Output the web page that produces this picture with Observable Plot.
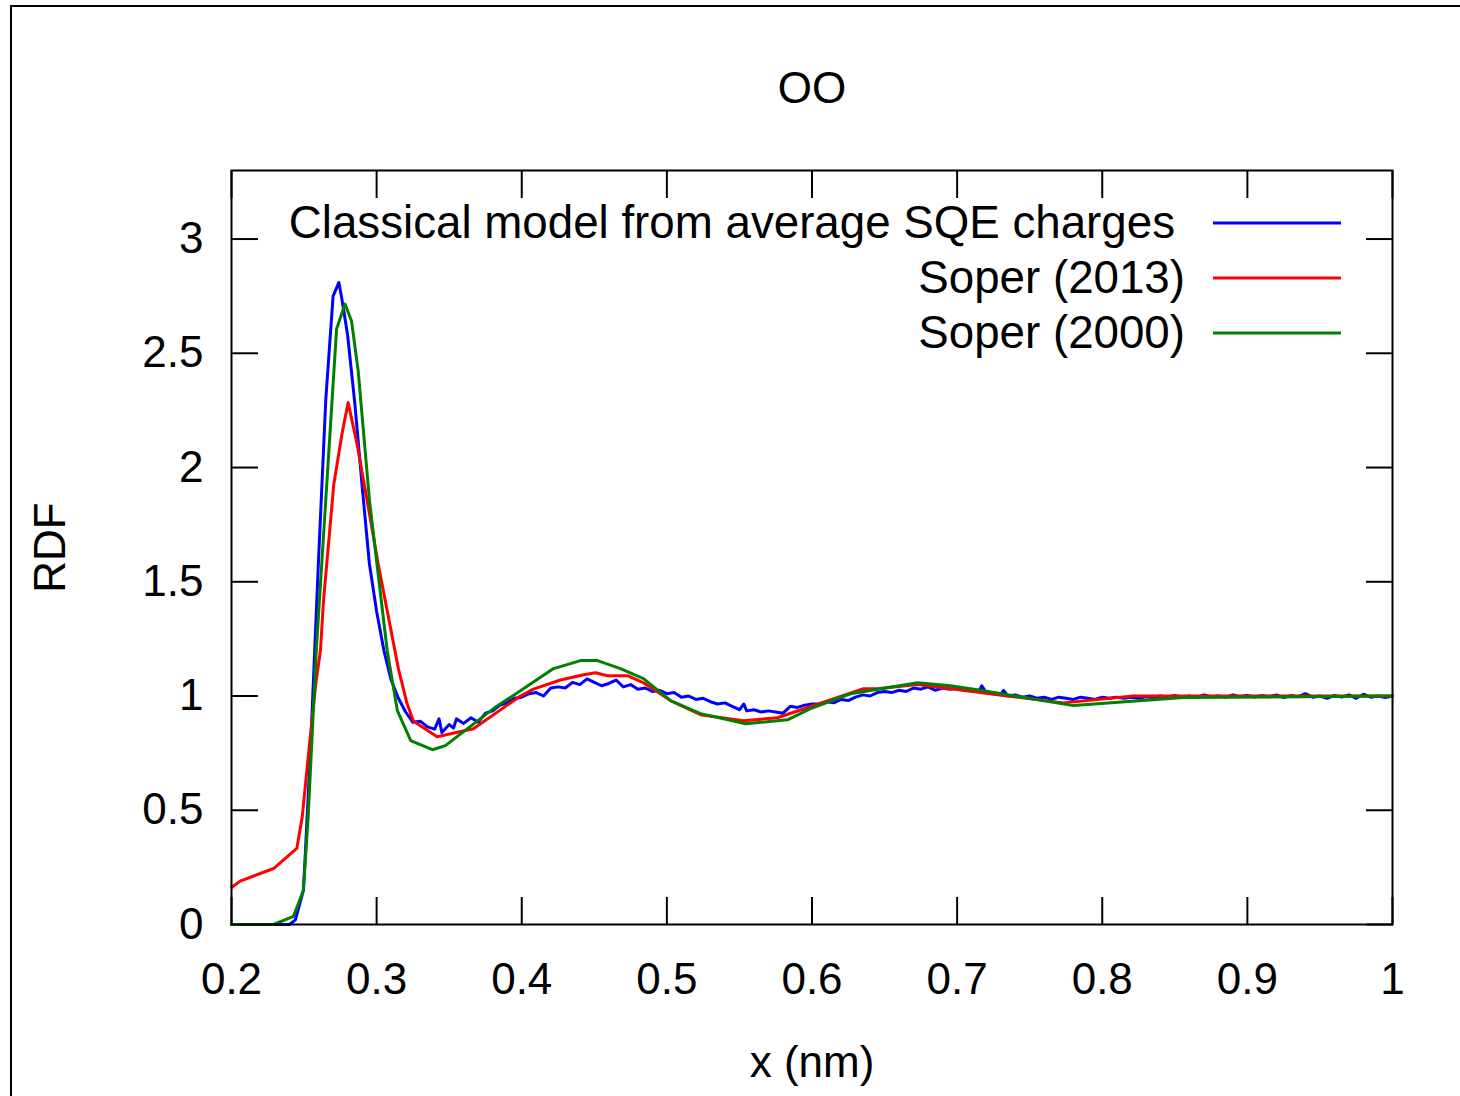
<!DOCTYPE html>
<html>
<head>
<meta charset="utf-8">
<script src="https://cdn.jsdelivr.net/npm/d3@7"></script>
<script src="https://cdn.jsdelivr.net/npm/@observablehq/plot@0.6"></script>
<style>
  html, body { margin: 0; padding: 0; background: #fff; }
  #wrap { position: relative; width: 1460px; height: 1096px; overflow: hidden; font-family: "Liberation Sans", Arial, sans-serif; }
  #pageframe { position: absolute; left: 10px; top: 5px; width: 1500px; height: 1200px; border-left: 2px solid #000; border-top: 2px solid #000; }
  #chart { position: absolute; left: 0; top: 0; }
  .leg { position: absolute; font-size: 45.7px; line-height: 1; transform: translateY(-50%); white-space: nowrap; color: #000; }
  .legline { position: absolute; left: 1213px; width: 128px; height: 0; border-top: 3px solid; transform: translateY(-1.5px); }
</style>
</head>
<body>
<div id="wrap">
  <div id="pageframe"></div>
  <div id="chart"></div>
</div>
<script>
// ---- data ----
const seriesNames = ["Classical model from average SQE charges", "Soper (2013)", "Soper (2000)"];
const seriesColors = ["#0000ff", "#ff0000", "#008000"];
const xTicks = [0.2, 0.3, 0.4, 0.5, 0.6, 0.7, 0.8, 0.9, 1];
const yTicks = [0, 0.5, 1, 1.5, 2, 2.5, 3];

const classicalX = [0.200,0.240,0.244,0.2496,0.2544,0.260,0.265,0.270,0.274,0.276,0.280,0.285,0.290,0.295,0.300,0.305,0.310,0.315,0.320,0.325,0.330,0.335,0.340,0.343,0.345,0.350,0.353,0.355,0.360,0.365,0.370,0.375,0.380,0.385,0.390,0.395,0.400,0.405,0.410,0.415,0.420,0.425,0.430,0.435,0.440,0.445,0.450,0.455,0.460,0.465,0.470,0.475,0.480,0.485,0.490,0.495,0.500,0.505,0.510,0.515,0.520,0.525,0.530,0.535,0.540,0.545,0.550,0.553,0.555,0.560,0.565,0.570,0.575,0.580,0.585,0.590,0.595,0.600,0.605,0.610,0.615,0.620,0.625,0.630,0.635,0.640,0.645,0.650,0.655,0.660,0.665,0.670,0.675,0.680,0.685,0.690,0.695,0.700,0.705,0.710,0.715,0.717,0.720,0.725,0.730,0.732,0.735,0.740,0.745,0.750,0.755,0.760,0.765,0.770,0.775,0.780,0.785,0.790,0.795,0.800,0.805,0.810,0.815,0.820,0.825,0.830,0.835,0.840,0.845,0.850,0.855,0.860,0.865,0.870,0.875,0.880,0.885,0.890,0.895,0.900,0.905,0.910,0.915,0.920,0.925,0.930,0.935,0.940,0.945,0.950,0.955,0.960,0.965,0.970,0.975,0.980,0.985,0.990,0.995,1.000];
const classicalY = [0,0,0.02,0.15,0.76,1.6,2.3,2.75,2.81,2.74,2.58,2.28,1.92,1.58,1.37,1.2,1.07,0.99,0.93,0.885,0.89,0.865,0.855,0.9,0.84,0.875,0.86,0.9,0.88,0.905,0.885,0.925,0.935,0.96,0.97,0.99,0.995,1.01,1.015,1.0,1.035,1.04,1.035,1.06,1.05,1.075,1.06,1.045,1.055,1.07,1.04,1.05,1.03,1.035,1.02,1.025,1.01,1.015,0.995,1.0,0.985,0.99,0.975,0.965,0.97,0.955,0.94,0.965,0.935,0.94,0.93,0.935,0.93,0.925,0.955,0.95,0.96,0.965,0.965,0.975,0.97,0.985,0.98,0.995,1.005,1.0,1.015,1.02,1.015,1.025,1.02,1.035,1.03,1.04,1.025,1.035,1.03,1.035,1.025,1.03,1.02,1.045,1.015,1.01,1.005,1.025,1.0,1.005,0.995,1.0,0.99,0.995,0.985,0.995,0.99,0.985,0.995,0.99,0.985,0.995,0.99,0.995,0.99,0.995,0.99,0.997,0.993,1.0,0.995,1.003,0.995,1.0,0.993,1.005,0.997,1.0,0.995,1.005,0.997,1.003,0.995,1.002,0.997,1.005,0.993,1.002,0.997,1.01,0.995,1.0,0.99,1.003,0.995,1.005,0.99,1.008,0.995,1.0,0.993,1.0];

const soper2013X = [0.200,0.206,0.229,0.245,0.2487,0.2533,0.258,0.2613,0.2634,0.2705,0.2763,0.2804,0.2866,0.2935,0.3013,0.315,0.321,0.3254,0.3417,0.3667,0.3991,0.408,0.4267,0.4426,0.4508,0.4591,0.4729,0.4839,0.5025,0.5232,0.5528,0.5762,0.6355,0.6451,0.6727,0.7347,0.7733,0.8215,1.000];
const soper2013Y = [0.162,0.19,0.245,0.333,0.469,0.76,1.05,1.2,1.417,1.927,2.153,2.284,2.10,1.854,1.57,1.12,0.966,0.89,0.822,0.857,1.0,1.03,1.07,1.093,1.102,1.089,1.089,1.058,0.98,0.918,0.892,0.905,1.032,1.032,1.05,1.0,0.97,1.0,1.0];

const soper2000X = [0.200,0.229,0.2427,0.2495,0.2528,0.2584,0.2724,0.2782,0.2827,0.2873,0.2951,0.3073,0.3143,0.3235,0.3384,0.3474,0.3805,0.3991,0.4219,0.4405,0.4522,0.468,0.4839,0.5025,0.5232,0.5542,0.5831,0.599,0.6265,0.6727,0.6954,0.7182,0.7802,0.856,1.000];
const soper2000Y = [0,0,0.036,0.149,0.468,1.198,2.606,2.716,2.641,2.423,1.854,1.198,0.936,0.805,0.765,0.783,0.945,1.023,1.12,1.155,1.155,1.12,1.076,0.98,0.923,0.879,0.896,0.945,1.01,1.058,1.045,1.023,0.958,0.993,1.0];

const titleText = "OO";
const xLabel = "x (nm)";
const yLabel = "RDF";

// ---- build ----
const toRows = (xs, ys) => xs.map((x, i) => ({x, y: ys[i]}));
const seriesRows = [
  toRows(classicalX, classicalY),
  toRows(soper2013X, soper2013Y),
  toRows(soper2000X, soper2000Y)
];
const fmt = d => String(d);
const FS = 44;

const chart = Plot.plot({
  width: 1460,
  height: 1096,
  marginLeft: 231,
  marginRight: 68,
  marginTop: 170,
  marginBottom: 172,
  x: {domain: [0.2, 1.0]},
  y: {domain: [0, 3.3]},
  style: {fontFamily: '"Liberation Sans", Arial, sans-serif', fontSize: FS + "px", background: "transparent", color: "#000", overflow: "visible"},
  marks: [
    // inward tick marks on all four sides
    Plot.axisX(xTicks, {anchor: "bottom", tickSize: -27, tickFormat: () => "", strokeWidth: 2, label: null}),
    Plot.axisX(xTicks, {anchor: "top", tickSize: -27, tickFormat: () => "", strokeWidth: 2, label: null}),
    Plot.axisY(yTicks, {anchor: "left", tickSize: -27, tickFormat: () => "", strokeWidth: 2, label: null}),
    Plot.axisY(yTicks, {anchor: "right", tickSize: -27, tickFormat: () => "", strokeWidth: 2, label: null}),
    // tick labels
    Plot.axisX(xTicks, {anchor: "bottom", tickSize: 0, tickPadding: 38, tickFormat: fmt, label: null, fontSize: FS}),
    Plot.axisY(yTicks, {anchor: "left", tickSize: 0, tickPadding: 28, tickFormat: fmt, label: null, fontSize: FS}),
    // curves
    Plot.line(seriesRows[0], {x: "x", y: "y", stroke: seriesColors[0], strokeWidth: 3}),
    Plot.line(seriesRows[1], {x: "x", y: "y", stroke: seriesColors[1], strokeWidth: 3}),
    Plot.line(seriesRows[2], {x: "x", y: "y", stroke: seriesColors[2], strokeWidth: 3}),
    Plot.frame({stroke: "#000", strokeWidth: 2}),
    // title and axis labels
    Plot.text([titleText], {text: d => d, frameAnchor: "top", lineAnchor: "middle", dy: -82, fontSize: FS, fill: "#000"}),
    Plot.text([xLabel], {text: d => d, frameAnchor: "bottom", lineAnchor: "middle", dy: 138, fontSize: FS, fill: "#000"}),
    Plot.text([yLabel], {text: d => d, frameAnchor: "left", textAnchor: "middle", lineAnchor: "middle", rotate: -90, dx: -181, fontSize: FS, fill: "#000"})
  ]
});
document.getElementById("chart").appendChild(chart);

// legend (top-right inside the frame)
const wrap = document.getElementById("wrap");
const legY = [223, 278, 333];
const legRight = [285, 275, 275];
seriesNames.forEach((name, i) => {
  const t = document.createElement("div");
  t.className = "leg";
  t.style.top = legY[i] + "px";
  t.style.right = legRight[i] + "px";
  t.textContent = name;
  wrap.appendChild(t);
  const l = document.createElement("div");
  l.className = "legline";
  l.style.top = legY[i] + "px";
  l.style.borderTopColor = seriesColors[i];
  wrap.appendChild(l);
});
</script>
</body>
</html>
